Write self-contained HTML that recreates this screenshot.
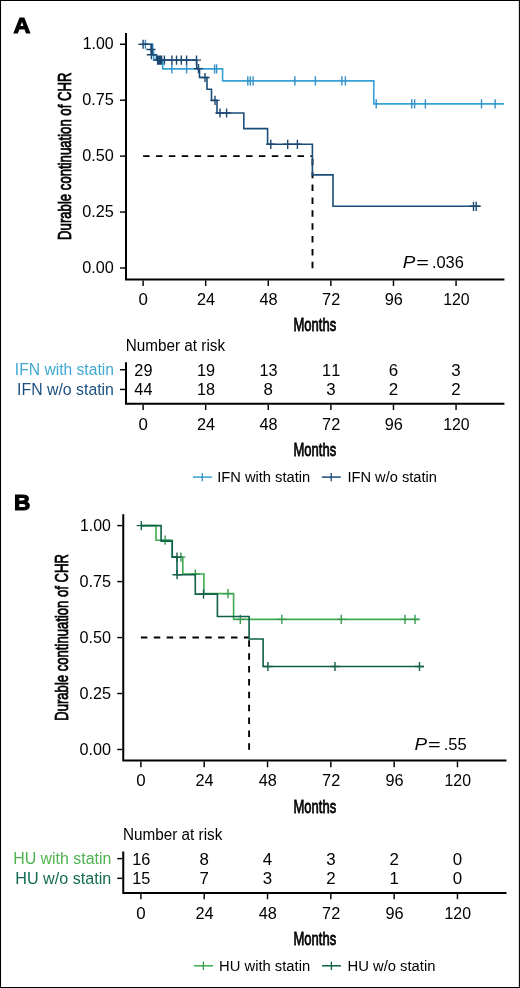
<!DOCTYPE html>
<html lang="en"><head><meta charset="utf-8"><title>Figure</title>
<style>
html,body{margin:0;padding:0;background:#fff;}
body{width:520px;height:988px;overflow:hidden;position:relative;}
svg{display:block;position:absolute;left:0;top:0;}
text{font-family:"Liberation Sans",Arial,Helvetica,sans-serif;font-kerning:none;white-space:pre;}
</style></head><body>
<svg width="520" height="988" viewBox="0 0 520 988">
<rect x="0" y="0" width="520" height="988" fill="#fff"/>
<path d="M126.00,33.00V279.40H504.40" stroke="#000" stroke-width="2" fill="none" stroke-linejoin="miter" stroke-linecap="butt"/>
<path d="M120.00,44.25L125.00,44.25" stroke="#000" stroke-width="1.45" fill="none"/>
<text transform="translate(82.79,49.25) scale(1.0187,1)" font-size="15.6" fill="#000">1.00</text>
<path d="M120.00,100.19L125.00,100.19" stroke="#000" stroke-width="1.45" fill="none"/>
<text transform="translate(82.17,105.19) scale(1.0413,1)" font-size="15.6" fill="#000">0.75</text>
<path d="M120.00,156.12L125.00,156.12" stroke="#000" stroke-width="1.45" fill="none"/>
<text transform="translate(82.17,161.12) scale(1.0397,1)" font-size="15.6" fill="#000">0.50</text>
<path d="M120.00,212.06L125.00,212.06" stroke="#000" stroke-width="1.45" fill="none"/>
<text transform="translate(82.17,217.06) scale(1.0413,1)" font-size="15.6" fill="#000">0.25</text>
<path d="M120.00,268.00L125.00,268.00" stroke="#000" stroke-width="1.45" fill="none"/>
<text transform="translate(82.17,273.00) scale(1.0397,1)" font-size="15.6" fill="#000">0.00</text>
<path d="M143.10,280.40L143.10,286.00" stroke="#000" stroke-width="1.45" fill="none"/>
<text transform="translate(138.40,305.25) scale(1.0841,1)" font-size="15.6" fill="#000">0</text>
<path d="M205.69,280.40L205.69,286.00" stroke="#000" stroke-width="1.45" fill="none"/>
<text transform="translate(196.92,305.25) scale(1.0454,1)" font-size="15.6" fill="#000">24</text>
<path d="M268.28,280.40L268.28,286.00" stroke="#000" stroke-width="1.45" fill="none"/>
<text transform="translate(259.51,305.25) scale(1.0454,1)" font-size="15.6" fill="#000">48</text>
<path d="M330.88,280.40L330.88,286.00" stroke="#000" stroke-width="1.45" fill="none"/>
<text transform="translate(322.11,305.25) scale(1.0454,1)" font-size="15.6" fill="#000">72</text>
<path d="M393.47,280.40L393.47,286.00" stroke="#000" stroke-width="1.45" fill="none"/>
<text transform="translate(384.70,305.25) scale(1.0454,1)" font-size="15.6" fill="#000">96</text>
<path d="M456.06,280.40L456.06,286.00" stroke="#000" stroke-width="1.45" fill="none"/>
<text transform="translate(443.13,305.25) scale(1.0163,1)" font-size="15.6" fill="#000">120</text>
<text transform="translate(293.53,331.40) scale(0.6788,1)" font-size="19.2" fill="#000" stroke="#000" stroke-width="0.8">Months</text>
<text transform="translate(71.30,238.80) rotate(-90) scale(0.6925,1) translate(-1.56,0)" font-size="19.0" fill="#000" stroke="#000" stroke-width="0.8">Durable continuation of CHR</text>
<text transform="translate(402.82,268.10) scale(1.1662,1)" font-size="16.2" font-style="italic" fill="#000">P</text>
<text transform="translate(416.14,268.10) scale(1.3341,1)" font-size="16.2" fill="#000">=</text>
<text transform="translate(431.90,268.10) scale(1.0157,1)" font-size="16.2" fill="#000">.036</text>
<path d="M143.10,156.12H312.50" stroke="#000" stroke-width="1.9" fill="none" stroke-dasharray="6.5 6.37"/>
<path d="M312.50,268.30V156.12" stroke="#000" stroke-width="1.9" fill="none" stroke-dasharray="6.5 6.37"/>
<path d="M126.00,362.30V403.80H504.40" stroke="#000" stroke-width="2" fill="none"/>
<text transform="translate(125.75,350.70) scale(0.9794,1)" font-size="15.6" fill="#000">Number at risk</text>
<path d="M120.00,369.70L125.00,369.70" stroke="#000" stroke-width="1.45" fill="none"/>
<text transform="translate(14.86,375.20) scale(1.0034,1)" font-size="15.6" fill="#41a8d4">IFN with statin</text>
<text transform="translate(134.33,375.60) scale(1.0454,1)" font-size="15.6" fill="#000">29</text>
<text transform="translate(196.92,375.60) scale(1.0454,1)" font-size="15.6" fill="#000">19</text>
<text transform="translate(259.51,375.60) scale(1.0454,1)" font-size="15.6" fill="#000">13</text>
<text transform="translate(322.11,375.60) scale(1.0454,1)" font-size="15.6" fill="#000">11</text>
<text transform="translate(388.77,375.60) scale(1.0841,1)" font-size="15.6" fill="#000">6</text>
<text transform="translate(451.36,375.60) scale(1.0841,1)" font-size="15.6" fill="#000">3</text>
<path d="M120.00,389.45L125.00,389.45" stroke="#000" stroke-width="1.45" fill="none"/>
<text transform="translate(17.04,394.95) scale(1.0171,1)" font-size="15.6" fill="#1d5080">IFN w/o statin</text>
<text transform="translate(134.33,395.35) scale(1.0454,1)" font-size="15.6" fill="#000">44</text>
<text transform="translate(196.92,395.35) scale(1.0454,1)" font-size="15.6" fill="#000">18</text>
<text transform="translate(263.58,395.35) scale(1.0841,1)" font-size="15.6" fill="#000">8</text>
<text transform="translate(326.17,395.35) scale(1.0841,1)" font-size="15.6" fill="#000">3</text>
<text transform="translate(388.77,395.35) scale(1.0841,1)" font-size="15.6" fill="#000">2</text>
<text transform="translate(451.36,395.35) scale(1.0841,1)" font-size="15.6" fill="#000">2</text>
<path d="M143.10,404.80L143.10,410.00" stroke="#000" stroke-width="1.45" fill="none"/>
<text transform="translate(138.40,430.10) scale(1.0841,1)" font-size="15.6" fill="#000">0</text>
<path d="M205.69,404.80L205.69,410.00" stroke="#000" stroke-width="1.45" fill="none"/>
<text transform="translate(196.92,430.10) scale(1.0454,1)" font-size="15.6" fill="#000">24</text>
<path d="M268.28,404.80L268.28,410.00" stroke="#000" stroke-width="1.45" fill="none"/>
<text transform="translate(259.51,430.10) scale(1.0454,1)" font-size="15.6" fill="#000">48</text>
<path d="M330.88,404.80L330.88,410.00" stroke="#000" stroke-width="1.45" fill="none"/>
<text transform="translate(322.11,430.10) scale(1.0454,1)" font-size="15.6" fill="#000">72</text>
<path d="M393.47,404.80L393.47,410.00" stroke="#000" stroke-width="1.45" fill="none"/>
<text transform="translate(384.70,430.10) scale(1.0454,1)" font-size="15.6" fill="#000">96</text>
<path d="M456.06,404.80L456.06,410.00" stroke="#000" stroke-width="1.45" fill="none"/>
<text transform="translate(443.13,430.10) scale(1.0163,1)" font-size="15.6" fill="#000">120</text>
<text transform="translate(293.53,456.10) scale(0.6788,1)" font-size="19.2" fill="#000" stroke="#000" stroke-width="0.8">Months</text>
<path d="M192.90,477.10L211.90,477.10" stroke="#35a1d4" stroke-width="1.5" fill="none"/>
<path d="M202.30,472.90L202.30,481.30" stroke="#3590c8" stroke-width="1.3" fill="none"/>
<text transform="translate(217.25,481.90) scale(0.9777,1)" font-size="15.0" fill="#000">IFN with statin</text>
<path d="M321.80,477.10L340.80,477.10" stroke="#1a4d7a" stroke-width="1.5" fill="none"/>
<path d="M331.20,472.90L331.20,481.30" stroke="#1a4670" stroke-width="1.3" fill="none"/>
<text transform="translate(347.45,481.90) scale(0.9761,1)" font-size="15.0" fill="#000">IFN w/o statin</text>
<path d="M143.10,44.25H152.70V51.90H153.60V59.60H162.70V68.90H222.60V80.90H373.80V103.90H503.90V103.90" stroke="#35a1d4" stroke-width="1.6" fill="none" stroke-linejoin="miter"/>
<path d="M145.40,39.65v9.20M171.90,64.30v9.20M186.60,64.30v9.20M214.60,64.30v9.20M216.60,64.30v9.20M247.80,76.30v9.20M250.30,76.30v9.20M253.10,76.30v9.20M294.90,76.30v9.20M315.40,76.30v9.20M341.90,76.30v9.20M345.40,76.30v9.20M376.20,99.30v9.20M411.70,99.30v9.20M414.60,99.30v9.20M425.40,99.30v9.20M481.50,99.30v9.20M495.10,99.30v9.20" stroke="#3590c8" stroke-width="1.4" fill="none"/>
<path d="M143.10,44.25H151.80V49.50H152.40V54.70H156.50V60.10H196.70V68.60H199.50V77.50H207.00V89.30H211.50V100.40H217.00V113.00H243.80V128.60H267.60V144.30H312.40V174.90H333.00V206.30H480.00V206.30" stroke="#1a4d7a" stroke-width="1.6" fill="none" stroke-linejoin="miter"/>
<path d="M143.10,39.65v9.20M138.50,44.25h9.20M157.60,55.50v9.20M153.00,60.10h9.20M158.60,55.50v9.20M154.00,60.10h9.20M159.60,55.50v9.20M155.00,60.10h9.20M160.60,55.50v9.20M156.00,60.10h9.20M161.60,55.50v9.20M157.00,60.10h9.20M164.40,55.50v9.20M159.80,60.10h9.20M171.90,55.50v9.20M167.30,60.10h9.20M176.50,55.50v9.20M171.90,60.10h9.20M181.30,55.50v9.20M176.70,60.10h9.20M186.60,55.50v9.20M182.00,60.10h9.20M198.50,64.00v9.20M193.90,68.60h9.20M205.00,72.90v9.20M200.40,77.50h9.20M215.00,95.80v9.20M210.40,100.40h9.20M220.00,108.40v9.20M215.40,113.00h9.20M226.60,108.40v9.20M222.00,113.00h9.20M270.80,139.70v9.20M266.20,144.30h9.20M287.70,139.70v9.20M283.10,144.30h9.20M297.40,139.70v9.20M292.80,144.30h9.20M473.50,201.70v9.20M468.90,206.30h9.20M476.20,201.70v9.20M471.60,206.30h9.20M151.00,44.90v9.20M146.40,49.50h9.20M151.40,50.10v9.20M146.80,54.70h9.20M196.50,55.50v9.20M191.90,60.10h9.20" stroke="#1a4670" stroke-width="1.4" fill="none"/>
<path d="M123.25,514.30V760.60H506.50" stroke="#000" stroke-width="2" fill="none" stroke-linejoin="miter" stroke-linecap="butt"/>
<path d="M117.25,525.60L122.25,525.60" stroke="#000" stroke-width="1.45" fill="none"/>
<text transform="translate(80.04,530.60) scale(1.0187,1)" font-size="15.6" fill="#000">1.00</text>
<path d="M117.25,581.58L122.25,581.58" stroke="#000" stroke-width="1.45" fill="none"/>
<text transform="translate(79.42,586.58) scale(1.0413,1)" font-size="15.6" fill="#000">0.75</text>
<path d="M117.25,637.55L122.25,637.55" stroke="#000" stroke-width="1.45" fill="none"/>
<text transform="translate(79.42,642.55) scale(1.0397,1)" font-size="15.6" fill="#000">0.50</text>
<path d="M117.25,693.52L122.25,693.52" stroke="#000" stroke-width="1.45" fill="none"/>
<text transform="translate(79.42,698.52) scale(1.0413,1)" font-size="15.6" fill="#000">0.25</text>
<path d="M117.25,749.50L122.25,749.50" stroke="#000" stroke-width="1.45" fill="none"/>
<text transform="translate(79.42,754.50) scale(1.0397,1)" font-size="15.6" fill="#000">0.00</text>
<path d="M140.90,761.60L140.90,767.20" stroke="#000" stroke-width="1.45" fill="none"/>
<text transform="translate(136.20,786.45) scale(1.0841,1)" font-size="15.6" fill="#000">0</text>
<path d="M204.21,761.60L204.21,767.20" stroke="#000" stroke-width="1.45" fill="none"/>
<text transform="translate(195.44,786.45) scale(1.0454,1)" font-size="15.6" fill="#000">24</text>
<path d="M267.52,761.60L267.52,767.20" stroke="#000" stroke-width="1.45" fill="none"/>
<text transform="translate(258.75,786.45) scale(1.0454,1)" font-size="15.6" fill="#000">48</text>
<path d="M330.84,761.60L330.84,767.20" stroke="#000" stroke-width="1.45" fill="none"/>
<text transform="translate(322.07,786.45) scale(1.0454,1)" font-size="15.6" fill="#000">72</text>
<path d="M394.15,761.60L394.15,767.20" stroke="#000" stroke-width="1.45" fill="none"/>
<text transform="translate(385.38,786.45) scale(1.0454,1)" font-size="15.6" fill="#000">96</text>
<path d="M457.46,761.60L457.46,767.20" stroke="#000" stroke-width="1.45" fill="none"/>
<text transform="translate(444.53,786.45) scale(1.0163,1)" font-size="15.6" fill="#000">120</text>
<text transform="translate(293.53,812.80) scale(0.6788,1)" font-size="19.2" fill="#000" stroke="#000" stroke-width="0.8">Months</text>
<text transform="translate(68.00,719.70) rotate(-90) scale(0.6900,1) translate(-1.56,0)" font-size="19.0" fill="#000" stroke="#000" stroke-width="0.8">Durable continuation of CHR</text>
<text transform="translate(414.62,749.60) scale(1.1662,1)" font-size="16.2" font-style="italic" fill="#000">P</text>
<text transform="translate(427.94,749.60) scale(1.3341,1)" font-size="16.2" fill="#000">=</text>
<text transform="translate(443.69,749.60) scale(1.0216,1)" font-size="16.2" fill="#000">.55</text>
<path d="M140.90,637.55H249.10" stroke="#000" stroke-width="1.9" fill="none" stroke-dasharray="6.5 6.37"/>
<path d="M249.10,749.80V637.55" stroke="#000" stroke-width="1.9" fill="none" stroke-dasharray="6.5 6.37"/>
<path d="M123.25,851.50V893.00H506.50" stroke="#000" stroke-width="2" fill="none"/>
<text transform="translate(123.00,839.90) scale(0.9794,1)" font-size="15.6" fill="#000">Number at risk</text>
<path d="M117.25,858.60L122.25,858.60" stroke="#000" stroke-width="1.45" fill="none"/>
<text transform="translate(13.20,864.10) scale(1.0193,1)" font-size="15.6" fill="#4fb34e">HU with statin</text>
<text transform="translate(132.13,864.50) scale(1.0454,1)" font-size="15.6" fill="#000">16</text>
<text transform="translate(199.51,864.50) scale(1.0841,1)" font-size="15.6" fill="#000">8</text>
<text transform="translate(262.82,864.50) scale(1.0841,1)" font-size="15.6" fill="#000">4</text>
<text transform="translate(326.13,864.50) scale(1.0841,1)" font-size="15.6" fill="#000">3</text>
<text transform="translate(389.45,864.50) scale(1.0841,1)" font-size="15.6" fill="#000">2</text>
<text transform="translate(452.76,864.50) scale(1.0841,1)" font-size="15.6" fill="#000">0</text>
<path d="M117.25,878.35L122.25,878.35" stroke="#000" stroke-width="1.45" fill="none"/>
<text transform="translate(15.28,883.85) scale(1.0352,1)" font-size="15.6" fill="#126a52">HU w/o statin</text>
<text transform="translate(132.13,884.25) scale(1.0454,1)" font-size="15.6" fill="#000">15</text>
<text transform="translate(199.51,884.25) scale(1.0841,1)" font-size="15.6" fill="#000">7</text>
<text transform="translate(262.82,884.25) scale(1.0841,1)" font-size="15.6" fill="#000">3</text>
<text transform="translate(326.13,884.25) scale(1.0841,1)" font-size="15.6" fill="#000">2</text>
<text transform="translate(389.45,884.25) scale(1.0841,1)" font-size="15.6" fill="#000">1</text>
<text transform="translate(452.76,884.25) scale(1.0841,1)" font-size="15.6" fill="#000">0</text>
<path d="M140.90,894.00L140.90,899.20" stroke="#000" stroke-width="1.45" fill="none"/>
<text transform="translate(136.20,919.30) scale(1.0841,1)" font-size="15.6" fill="#000">0</text>
<path d="M204.21,894.00L204.21,899.20" stroke="#000" stroke-width="1.45" fill="none"/>
<text transform="translate(195.44,919.30) scale(1.0454,1)" font-size="15.6" fill="#000">24</text>
<path d="M267.52,894.00L267.52,899.20" stroke="#000" stroke-width="1.45" fill="none"/>
<text transform="translate(258.75,919.30) scale(1.0454,1)" font-size="15.6" fill="#000">48</text>
<path d="M330.84,894.00L330.84,899.20" stroke="#000" stroke-width="1.45" fill="none"/>
<text transform="translate(322.07,919.30) scale(1.0454,1)" font-size="15.6" fill="#000">72</text>
<path d="M394.15,894.00L394.15,899.20" stroke="#000" stroke-width="1.45" fill="none"/>
<text transform="translate(385.38,919.30) scale(1.0454,1)" font-size="15.6" fill="#000">96</text>
<path d="M457.46,894.00L457.46,899.20" stroke="#000" stroke-width="1.45" fill="none"/>
<text transform="translate(444.53,919.30) scale(1.0163,1)" font-size="15.6" fill="#000">120</text>
<text transform="translate(293.53,945.30) scale(0.6788,1)" font-size="19.2" fill="#000" stroke="#000" stroke-width="0.8">Months</text>
<path d="M194.00,965.80L213.00,965.80" stroke="#3daa4d" stroke-width="1.5" fill="none"/>
<path d="M203.40,961.60L203.40,970.00" stroke="#3a9a50" stroke-width="1.3" fill="none"/>
<text transform="translate(219.09,970.60) scale(0.9843,1)" font-size="15.0" fill="#000">HU with statin</text>
<path d="M322.00,965.80L341.00,965.80" stroke="#0e6048" stroke-width="1.5" fill="none"/>
<path d="M331.40,961.60L331.40,970.00" stroke="#17604a" stroke-width="1.3" fill="none"/>
<text transform="translate(347.59,970.60) scale(0.9863,1)" font-size="15.0" fill="#000">HU w/o statin</text>
<path d="M141.00,525.60H156.00V540.20H172.30V557.10H182.80V574.00H203.90V593.60H233.60V619.35H419.50V619.35" stroke="#3daa4d" stroke-width="1.6" fill="none" stroke-linejoin="miter"/>
<path d="M165.15,535.60v9.20M160.55,540.20h9.20M180.90,552.50v9.20M176.30,557.10h9.20M195.30,569.40v9.20M190.70,574.00h9.20M228.00,589.00v9.20M223.40,593.60h9.20M240.30,614.75v9.20M235.70,619.35h9.20M281.80,614.75v9.20M277.20,619.35h9.20M341.25,614.75v9.20M336.65,619.35h9.20M405.00,614.75v9.20M400.40,619.35h9.20M415.00,614.75v9.20M410.40,619.35h9.20" stroke="#3a9a50" stroke-width="1.4" fill="none"/>
<path d="M141.00,525.60H161.10V541.10H172.20V557.10H177.00V574.70H195.30V594.10H217.40V616.50H249.10V639.00H263.10V666.50H423.90V666.50" stroke="#0e6048" stroke-width="1.6" fill="none" stroke-linejoin="miter"/>
<path d="M141.30,521.00v9.20M136.70,525.60h9.20M203.50,589.50v9.20M198.90,594.10h9.20M267.90,661.90v9.20M263.30,666.50h9.20M335.00,661.90v9.20M330.40,666.50h9.20M419.50,661.90v9.20M414.90,666.50h9.20M177.00,552.50v9.20M172.40,557.10h9.20M177.10,570.10v9.20M172.50,574.70h9.20" stroke="#17604a" stroke-width="1.4" fill="none"/>
<text transform="translate(13.52,33.10) scale(1.0447,1)" font-size="22.4" font-weight="bold" fill="#000" stroke="#000" stroke-width="1.1">A</text>
<text transform="translate(13.89,510.20) scale(1.0012,1)" font-size="22.6" font-weight="bold" fill="#000" stroke="#000" stroke-width="1.1">B</text>
<path d="M0.5,0.5H519.4V987.45H0.5Z" fill="none" stroke="#000" stroke-width="1.1"/>
</svg>
</body></html>
